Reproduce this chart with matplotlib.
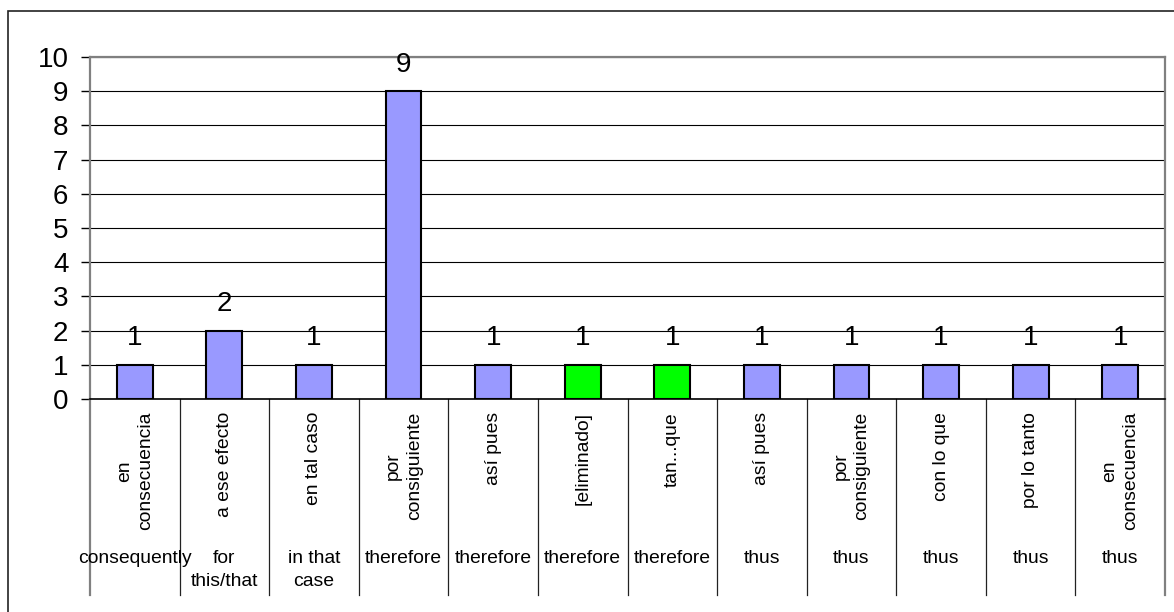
import matplotlib
matplotlib.use("Agg")
import matplotlib.pyplot as plt
from matplotlib.patches import Rectangle

plt.rcParams['font.family'] = ['Liberation Sans', 'DejaVu Sans']

# Spanish connectives, their English glosses and occurrence counts
spanish_terms = ["en\nconsecuencia", "a ese efecto", "en tal caso", "por\nconsiguiente",
                 "así pues", "[eliminado]", "tan...que", "así pues",
                 "por\nconsiguiente", "con lo que", "por lo tanto", "en\nconsecuencia"]
english_terms = ["consequently", "for\nthis/that", "in that\ncase", "therefore",
                 "therefore", "therefore", "therefore", "thus",
                 "thus", "thus", "thus", "thus"]
counts = [1, 2, 1, 9, 1, 1, 1, 1, 1, 1, 1, 1]
y_ticks = list(range(0, 11))

BLUE = "#9999FF"
GREEN = "#00FF00"
bar_colors = [BLUE] * 5 + [GREEN, GREEN] + [BLUE] * 5

W, H = 1174, 612
fig = plt.figure(figsize=(W / 100, H / 100), dpi=100)

# outer chart frame (runs off the right and bottom edges)
fig.patches.append(Rectangle((8 / W, -0.05), 1.2, (H - 11) / H + 0.05,
                             transform=fig.transFigure, fill=False,
                             edgecolor="#222222", linewidth=1.2))

left, right, top, bottom = 90, 1165, 57, 399
ax = fig.add_axes([left / W, (H - bottom) / H, (right - left) / W, (bottom - top) / H])

x = list(range(len(counts)))
bars = ax.bar(x, counts, width=0.4, color=bar_colors, edgecolor="black",
              linewidth=1.5, zorder=3)

for xi, v in zip(x, counts):
    ax.annotate(str(v), xy=(xi, v), xytext=(0, 14), textcoords="offset points",
                ha="center", va="baseline", fontsize=20, annotation_clip=False,
                zorder=4)

ax.set_xlim(-0.5, len(counts) - 0.5)
ax.set_ylim(0, 10)
ax.set_yticks(y_ticks)
ax.set_yticklabels([str(t) for t in y_ticks], fontsize=20)
ax.tick_params(axis="y", direction="out", length=6.5, width=1, pad=9, colors="black")
ax.set_xticks([])

ax.yaxis.grid(True, color="black", linewidth=0.8, zorder=0)
ax.set_axisbelow(True)

for side in ("top", "right", "left"):
    ax.spines[side].set_color("#808080")
    ax.spines[side].set_linewidth(1.6)
ax.spines["bottom"].set_color("black")
ax.spines["bottom"].set_linewidth(1.2)
ax.spines["bottom"].set_zorder(5)

# category dividers below the axis
xt = ax.get_xaxis_transform()
for b in range(len(counts) + 1):
    edge = b == 0 or b == len(counts)
    ax.plot([b - 0.5, b - 0.5], [0, -0.573], transform=xt, clip_on=False,
            color="#808080" if edge else "#222222",
            linewidth=1.6 if edge else 0.9)

# two-row category labels
for xi, es, en in zip(x, spanish_terms, english_terms):
    ax.annotate(es, xy=(xi, 0), xycoords=xt, xytext=(0, -9.4),
                textcoords="offset points", rotation=90, ha="center", va="top",
                multialignment="center", fontsize=13.9, linespacing=1.33,
                annotation_clip=False)
    ax.annotate(en, xy=(xi, 0), xycoords=xt, xytext=(0, -108.5),
                textcoords="offset points", ha="center", va="top",
                multialignment="center", fontsize=13.9, linespacing=1.45,
                annotation_clip=False)

fig.savefig("out.png", dpi=100)
